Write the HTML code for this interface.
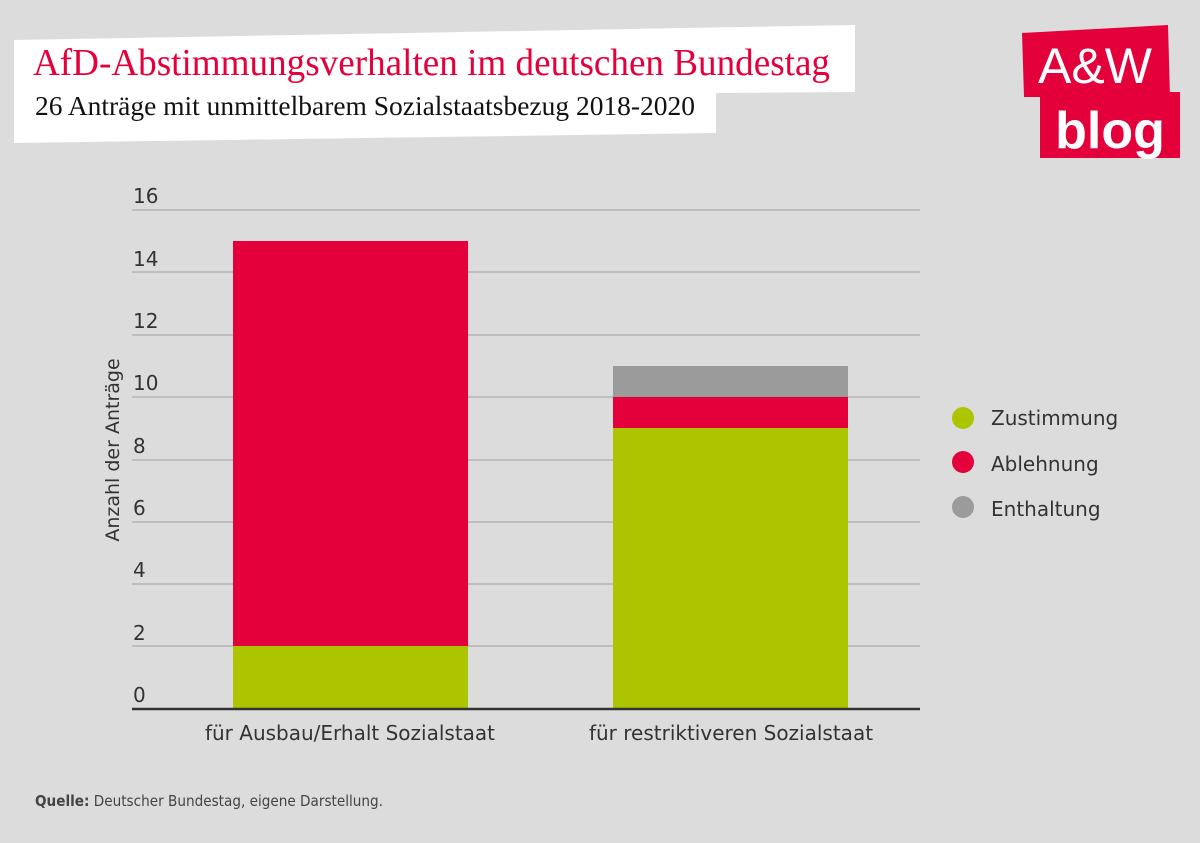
<!DOCTYPE html>
<html><head><meta charset="utf-8"><style>
body{margin:0;width:1200px;height:843px;background:#dcdcdc;overflow:hidden;font-family:"DejaVu Sans","Liberation Sans",sans-serif}
</style></head><body>
<svg width="1200" height="843" xmlns="http://www.w3.org/2000/svg" style="position:absolute;left:0;top:0">
<rect width="1200" height="843" fill="#dcdcdc"/>
<polygon points="14,40 855,25 855,92 716,93 716,133 14,143" fill="#fff"/>
<text x="33" y="75" font-family="Liberation Serif,serif" font-size="38" fill="#e4003a" textLength="797" lengthAdjust="spacingAndGlyphs">AfD-Abstimmungsverhalten im deutschen Bundestag</text>
<text x="35" y="115" font-family="Liberation Serif,serif" font-size="27" fill="#111" textLength="660" lengthAdjust="spacingAndGlyphs">26 Anträge mit unmittelbarem Sozialstaatsbezug 2018-2020</text>
<polygon points="1022,33 1168,25 1170,97 1024,97" fill="#e4003a"/>
<rect x="1040" y="92" width="140" height="66" fill="#e4003a"/>
<text x="1095" y="83" text-anchor="middle" font-family="Liberation Sans,sans-serif" font-size="50" fill="#fff">A&amp;W</text>
<text x="1110" y="148" text-anchor="middle" font-family="Liberation Sans,sans-serif" font-weight="bold" font-size="52" fill="#fff">blog</text>
<g stroke="#b3b3b3" stroke-width="1.5">
<line x1="132" x2="920" y1="210" y2="210"/><line x1="132" x2="920" y1="272" y2="272"/>
<line x1="132" x2="920" y1="335" y2="335"/><line x1="132" x2="920" y1="397" y2="397"/>
<line x1="132" x2="920" y1="460" y2="460"/><line x1="132" x2="920" y1="522" y2="522"/>
<line x1="132" x2="920" y1="584" y2="584"/><line x1="132" x2="920" y1="646" y2="646"/>
</g>
<g font-size="20" fill="#333">
<text x="133" y="203">16</text><text x="133" y="266">14</text><text x="133" y="328">12</text>
<text x="133" y="390">10</text><text x="133" y="453">8</text><text x="133" y="515">6</text>
<text x="133" y="577">4</text><text x="133" y="640">2</text><text x="133" y="702">0</text>
</g>
<rect x="233" y="241" width="235" height="405" fill="#e4003a"/>
<rect x="233" y="646" width="235" height="63" fill="#adc500"/>
<rect x="613" y="366" width="235" height="31" fill="#9b9b9b"/>
<rect x="613" y="397" width="235" height="31" fill="#e4003a"/>
<rect x="613" y="428" width="235" height="281" fill="#adc500"/>
<line x1="132" x2="920" y1="709" y2="709" stroke="#333" stroke-width="2.5"/>
<text x="350" y="740" text-anchor="middle" font-size="20" fill="#333">für Ausbau/Erhalt Sozialstaat</text>
<text x="731" y="740" text-anchor="middle" font-size="20" fill="#333">für restriktiveren Sozialstaat</text>
<text transform="translate(119,450) rotate(-90)" text-anchor="middle" font-size="19" fill="#333">Anzahl der Anträge</text>
<circle cx="963" cy="418" r="11" fill="#adc500"/><circle cx="963" cy="462" r="11" fill="#e4003a"/><circle cx="963" cy="507" r="11" fill="#9b9b9b"/>
<g font-size="20" fill="#333"><text x="991" y="425">Zustimmung</text><text x="991" y="471">Ablehnung</text><text x="991" y="516">Enthaltung</text></g>
<text x="35" y="806" font-size="15" fill="#444" textLength="348" lengthAdjust="spacingAndGlyphs"><tspan font-weight="bold">Quelle:</tspan> Deutscher Bundestag, eigene Darstellung.</text>
</svg>
</body></html>
